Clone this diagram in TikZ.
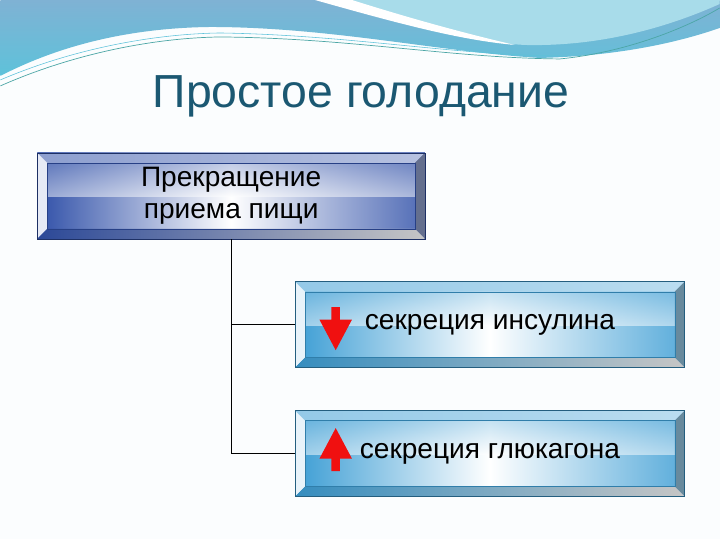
\documentclass[tikz,border=0pt]{standalone}
\usepackage{fontspec}
\setmainfont{Liberation Sans}
\usetikzlibrary{shapes,shapes.arrows,positioning,calc}

\definecolor{titleblue}{HTML}{1B5872}
\definecolor{deepblue}{HTML}{3050A8}
\definecolor{skyblue}{HTML}{3C9DD4}
\definecolor{arrowred}{HTML}{F01010}
\definecolor{wavetop}{HTML}{7FB2D4}
\definecolor{wavelow}{HTML}{5EC2DA}
\definecolor{wavelight}{HTML}{A8DCEA}
\definecolor{pageback}{HTML}{FBFDFE}

\newcommand\ppbb{path picture bounding box}

\tikzset{
	bevel/.style={draw=#1!60!black, line width=.4pt, minimum height=2.15cm,
		inner sep=0pt, align=center, font=\fontsize{20}{23}\selectfont,
		path picture={
			% face
			\shade[left color=#1, right color=#1!85, middle color=white]
				(\ppbb.south west) rectangle (\ppbb.north east);
			\shade[top color=#1!75, bottom color=white, opacity=.5]
				(\ppbb.north west) rectangle ([yshift=-1.1cm]\ppbb.north east);
			% bevels
			\shade[left color=#1!55, right color=#1!35]
				(\ppbb.north west) -- (\ppbb.north east)
				-- ([shift={(-.25cm,-.25cm)}]\ppbb.north east)
				-- ([shift={(.25cm,-.25cm)}]\ppbb.north west) -- cycle;
			\fill[#1!12]
				(\ppbb.north west) -- ([shift={(.25cm,-.25cm)}]\ppbb.north west)
				-- ([shift={(.25cm,.25cm)}]\ppbb.south west) -- (\ppbb.south west) -- cycle;
			\fill[gray!65!#1]
				(\ppbb.north east) -- ([shift={(-.25cm,-.25cm)}]\ppbb.north east)
				-- ([shift={(-.25cm,.25cm)}]\ppbb.south east) -- (\ppbb.south east) -- cycle;
			\shade[left color=#1!90!black, right color=gray!45]
				(\ppbb.south west) -- ([shift={(.25cm,.25cm)}]\ppbb.south west)
				-- ([shift={(-.25cm,.25cm)}]\ppbb.south east) -- (\ppbb.south east) -- cycle;
			\draw[#1!80!black, line width=.3pt]
				([shift={(.25cm,.25cm)}]\ppbb.south west)
				rectangle ([shift={(-.25cm,-.25cm)}]\ppbb.north east);
		}},
	sarrow/.style={single arrow, fill=arrowred, draw=none,
		inner xsep=0pt, inner ysep=.1cm,
		minimum height=1.075cm, minimum width=.8cm,
		single arrow head extend=.3cm, single arrow tip angle=56},
	conn/.style={draw=black, line width=.6pt},
}

\begin{document}
\begin{tikzpicture}[x=0.025cm,y=-0.025cm]
	% page and top wave
	\fill[pageback] (0,0) rectangle (720,540);
	\shade[top color=wavetop, bottom color=wavelow]
		(0,0) -- (0,76) .. controls (60,45) and (130,28) .. (210,27)
		.. controls (330,27) and (440,52) .. (540,58)
		.. controls (620,56) and (680,42) .. (720,28) -- (720,0) -- cycle;
	\fill[wavelight]
		(345,0) .. controls (420,28) and (470,42) .. (525,45)
		.. controls (610,47) and (680,22) .. (720,4) -- (720,0) -- cycle;
	\fill[white]
		(315,0) .. controls (400,24) and (460,40) .. (515,45)
		.. controls (450,30) and (390,12) .. (352,0) -- cycle;
	\draw[teal!70, line width=.5pt]
		(0,86) .. controls (70,55) and (150,38) .. (220,37)
		.. controls (350,38) and (450,58) .. (560,59)
		.. controls (630,52) and (690,26) .. (720,8);
	\draw[wavelow, line width=.4pt]
		(0,80) .. controls (70,50) and (150,34) .. (220,33)
		.. controls (350,35) and (450,55) .. (560,56);

	\node[anchor=base, text=titleblue, font=\fontsize{33}{38}\selectfont]
		(title) at (361,108) {Простое голодание};

	\node[bevel=deepblue, minimum width=9.7cm] (stop) at (231,196)
		{Прекращение\\приема пищи};
	\node[bevel=skyblue, minimum width=9.75cm] (ins) at (490,325)
		{секреция инсулина};
	\node[bevel=skyblue, minimum width=9.75cm] (glu) at (490,454)
		{секреция глюкагона};

	\node[sarrow, rotate=-90] (down) at ([xshift=1.025cm]ins.west) {};
	\node[sarrow, rotate=90] (up) at ([xshift=1.025cm]glu.west) {};

	\draw[conn] (stop.south) |- (ins.west);
	\draw[conn] (stop.south) |- (glu.west);
\end{tikzpicture}
\end{document}
